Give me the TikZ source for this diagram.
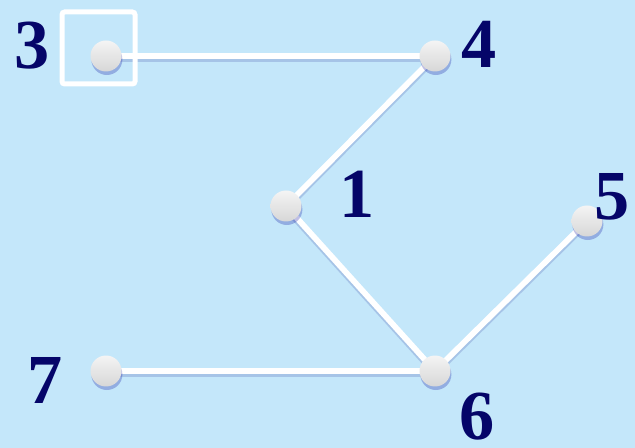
\documentclass[tikz,border=0pt]{standalone}
\usepackage{fontspec}
\setmainfont{Liberation Serif}
\usepackage{tikz}
\usetikzlibrary{shadows, calc}
\usepackage{xcolor}
\definecolor{bgblue}{RGB}{196,231,250}
\definecolor{numnavy}{RGB}{5,5,105}

\begin{document}
\begin{tikzpicture}[
    x=0.02cm, y=-0.02cm,
    vtx/.style    = {circle, minimum size=0.62cm, inner sep=0pt,
                     top color=gray!8, bottom color=gray!32,
                     drop shadow={shadow xshift=0.5pt, shadow yshift=-2pt,
                     opacity=0.25, fill=blue!60!black}},
    edge/.style   = {draw=white, line width=0.115cm},
    eshadow/.style= {draw=blue!50!black, line width=0.11cm, opacity=0.15},
    num/.style    = {text=numnavy, font=\fontsize{40}{44}\selectfont\bfseries,
                     inner sep=0pt},
]

%% Background
\fill[bgblue] (0,0) rectangle (635,448);
\useasboundingbox (0,0) rectangle (635,448);

%% Vertices
\coordinate (c3) at (106,56);
\coordinate (c4) at (435,56);
\coordinate (c1) at (286,206);
\coordinate (c5) at (587,221);
\coordinate (c6) at (435,371);
\coordinate (c7) at (106,371);

%% Edge shadows and edges
\foreach \a/\b in {c3/c4, c4/c1, c1/c6, c6/c5, c6/c7}
    \draw[eshadow] ($(\a)+(0,3)$) -- ($(\b)+(0,3)$);
\foreach \a/\b in {c3/c4, c4/c1, c1/c6, c6/c5, c6/c7}
    \draw[edge] (\a) -- (\b);

%% Marker square around vertex 3
\draw[white, line width=0.1cm, rounded corners=1.5pt] (62,12) rectangle (135,84);

%% Balls
\foreach \c in {c3, c4, c1, c5, c6, c7}
    \node[vtx] (v\c) at (\c) {};

%% Labels
\node[num] (l3) at (32,46)  {3};
\node[num] (l4) at (479,44) {4};
\node[num] (l1) at (357,194) {1};
\node[num] (l5) at (612,197) {5};
\node[num] (l6) at (477,417) {6};
\node[num] (l7) at (45,380)  {7};

\end{tikzpicture}
\end{document}
